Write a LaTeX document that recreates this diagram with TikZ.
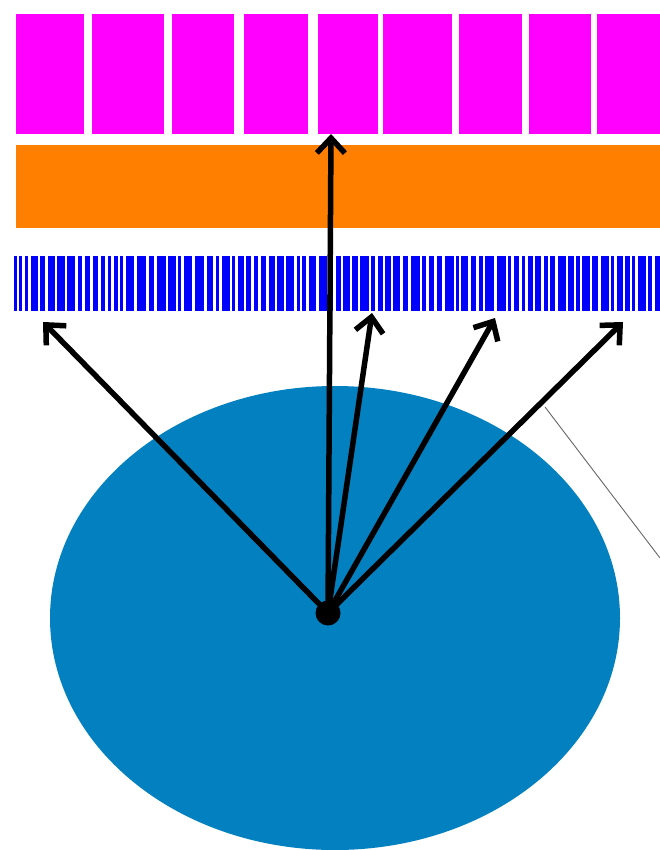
\documentclass[tikz,border=0pt]{standalone}
\usetikzlibrary{arrows.meta}
\definecolor{mag}{RGB}{255,0,255}
\definecolor{org}{RGB}{255,128,0}
\definecolor{barblue}{RGB}{0,0,255}
\definecolor{disk}{RGB}{3,128,192}
\tikzset{
  magbox/.style={fill=mag},
  orgbar/.style={fill=org},
  stripe/.style={fill=barblue},
  ray/.style={line width=5.5pt, line cap=round, -{Straight Barb[length=15pt,width=28pt,line width=5.5pt]}},
  thinline/.style={draw=gray!80!black, line width=0.9pt},
}
\begin{document}
\begin{tikzpicture}[x=1pt,y=-1pt]
\useasboundingbox (0,0) rectangle (660,850);
% magenta blocks
\foreach \a/\b in {16/84,92/164,172/234,244/308,318/378,383/452,459/522,529/591,597/660}{
  \fill[magbox] (\a,14) rectangle (\b,134);
}
% orange bar
\fill[orgbar] (16,145) rectangle (660,228);
% blue barcode stripe
\pgfmathsetseed{42}
\xdef\bx{14}
\foreach \i in {1,...,130}{
  \pgfmathsetmacro\bw{random(3,9)}
  \pgfmathsetmacro\bg{random(2,3)}
  \pgfmathsetmacro\bend{min(\bx+\bw,660)}
  \ifdim \bx pt<660pt \fill[stripe] (\bx,256) rectangle (\bend,311); \fi
  \pgfmathsetmacro\nx{\bend+\bg}
  \xdef\bx{\nx}
}
% disk
\fill[disk] (335,618) ellipse [x radius=285, y radius=232];
% thin line
\coordinate (t1) at (545,407);
\coordinate (t2) at (660,558);
\draw[thinline] (t1) -- (t2);
% source dot
\node[circle, fill=black, inner sep=0pt, minimum size=25pt] (src) at (328,613) {};
\coordinate (e1) at (43,322);
\coordinate (e2) at (331,134);
\coordinate (e3) at (372,313);
\coordinate (e4) at (495,318);
\coordinate (e5) at (623,322);
\foreach \e in {e1,e2,e3,e4,e5}{
  \draw[ray] (src.center) -- (\e);
}
\end{tikzpicture}
\end{document}
